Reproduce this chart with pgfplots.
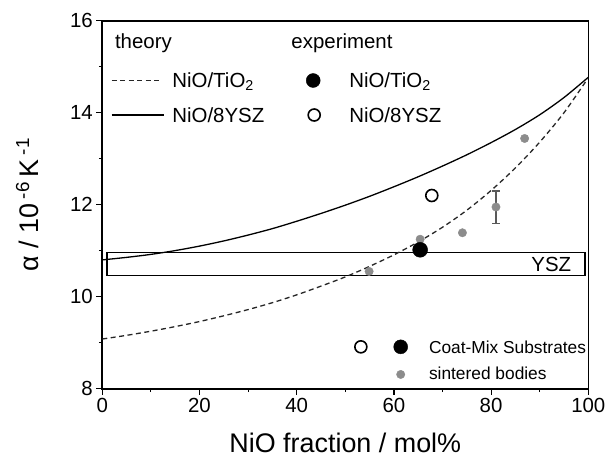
\documentclass[border=0pt]{standalone}
\usepackage{pgfplots}
\pgfplotsset{compat=1.18}
\usepackage{fontspec}
\setmainfont{Liberation Sans}
\definecolor{dotgray}{gray}{0.55}
\definecolor{bargray}{gray}{0.35}

\begin{document}
\begin{tikzpicture}
\useasboundingbox (-102.3bp,-71.3bp) rectangle (504.7bp,388.7bp);
\begin{axis}[
  at={(0,0)}, anchor=south west,
  scale only axis, width=486bp, height=368bp,
  xmin=0, xmax=100, ymin=8, ymax=16,
  xtick={0,20,...,100}, ytick={8,10,...,16},
  minor tick num=1,
  tick align=outside,
  xtick pos=bottom, ytick pos=left,
  major tick length=6bp, minor tick length=3.5bp,
  axis line style={line width=1.6bp},
  every tick/.style={line width=1.2bp, black},
  tick label style={font=\fontsize{20.5}{24}\selectfont},
  /pgf/number format/assume math mode=true,
  every axis x label/.style={at={(axis description cs:0.5,0)}, yshift=-54bp, anchor=center},
  every axis y label/.style={at={(axis description cs:0,0.5)}, xshift=-75bp, rotate=90, anchor=center},
  label style={font=\fontsize{27}{31}\selectfont},
  xlabel={NiO fraction / mol\%},
  ylabel={α / 10\,\textsuperscript{-6}\,K\,\textsuperscript{-1}},
]

% YSZ band
\addplot[line width=1.8bp, black] coordinates {(0.9,10.46) (99.4,10.46) (99.4,10.96) (0.9,10.96) (0.9,10.46)};
\node[anchor=east, font=\fontsize{20.5}{24}\selectfont] at (axis cs:97.2,10.70) {YSZ};

% theory: NiO/8YSZ
\addplot[black, line width=1.3bp, smooth] coordinates {
  (0,10.80) (5,10.855) (10,10.92) (15,11.0025) (20,11.10) (25,11.2125)
  (30,11.34) (35,11.48) (40,11.64) (45,11.81) (50,11.99) (55,12.1825)
  (60,12.39) (65,12.6075) (70,12.84) (75,13.085) (80,13.35) (85,13.635)
  (90,13.955) (95,14.33) (100,14.77)};
% theory: NiO/TiO2
\addplot[black!85, line width=1.3bp, dash pattern=on 5bp off 3.5bp, smooth] coordinates {
  (0,9.08) (5,9.16) (10,9.25) (15,9.35) (20,9.46) (25,9.585)
  (30,9.72) (35,9.87) (40,10.04) (45,10.23) (50,10.43) (55,10.66)
  (60,10.91) (65,11.19) (70,11.51) (75,11.88) (80,12.31) (85,12.80)
  (90,13.36) (95,14.00) (100,14.76)};

% sintered bodies
\addplot[only marks, mark=*, mark size=4.2bp, dotgray, mark options={draw=dotgray, fill=dotgray}] coordinates {
  (54.9,10.55) (65.4,11.25) (74.1,11.39) (86.9,13.44)};
\addplot[only marks, mark=*, mark size=4.2bp, dotgray, mark options={draw=dotgray, fill=dotgray},
  error bars/.cd, y dir=both, y explicit,
  error bar style={line width=1.2bp, bargray},
  error mark options={mark size=4bp, line width=1.2bp, bargray, rotate=90}]
  coordinates {(81.0,11.95) +- (0,0.35)};

% Coat-Mix substrates
\addplot[only marks, mark=*, mark size=7.5bp, black, mark options={fill=black}] coordinates {(65.4,11.02)};
\addplot[only marks, mark=o, mark size=6bp, black, mark options={line width=1.6bp, fill=white}] coordinates {(67.8,12.20)};

% key, upper left
\node[anchor=west, font=\fontsize{20.5}{24}\selectfont] at (axis cs:1.9,15.52) {theory};
\node[anchor=west, font=\fontsize{20.5}{24}\selectfont] at (axis cs:38.2,15.52) {experiment};
\addplot[black!85, line width=1.3bp, dash pattern=on 5bp off 3.5bp] coordinates {(1.9,14.70) (11.9,14.70)};
\addplot[black, line width=1.3bp] coordinates {(1.9,13.95) (12.6,13.95)};
\node[anchor=west, font=\fontsize{20.5}{24}\selectfont] at (axis cs:13.7,14.68) {NiO/TiO\textsubscript{2}};
\node[anchor=west, font=\fontsize{20.5}{24}\selectfont] at (axis cs:13.7,13.95) {NiO/8YSZ};
\addplot[only marks, mark=*, mark size=7bp, black, mark options={fill=black}] coordinates {(43.4,14.70)};
\addplot[only marks, mark=o, mark size=6bp, black, mark options={line width=1.6bp, fill=white}] coordinates {(43.6,13.95)};
\node[anchor=west, font=\fontsize{20.5}{24}\selectfont] at (axis cs:50.1,14.68) {NiO/TiO\textsubscript{2}};
\node[anchor=west, font=\fontsize{20.5}{24}\selectfont] at (axis cs:50.1,13.95) {NiO/8YSZ};

% key, lower right
\addplot[only marks, mark=o, mark size=6bp, black, mark options={line width=1.6bp, fill=white}] coordinates {(53.2,8.91)};
\addplot[only marks, mark=*, mark size=7bp, black, mark options={fill=black}] coordinates {(61.4,8.91)};
\addplot[only marks, mark=*, mark size=4.2bp, dotgray, mark options={draw=dotgray, fill=dotgray}] coordinates {(61.4,8.31)};
\node[anchor=west, font=\fontsize{17.4}{20}\selectfont] at (axis cs:66.5,8.91) {Coat-Mix Substrates};
\node[anchor=west, font=\fontsize{17.4}{20}\selectfont] at (axis cs:66.5,8.33) {sintered bodies};
\end{axis}
\end{tikzpicture}
\end{document}
